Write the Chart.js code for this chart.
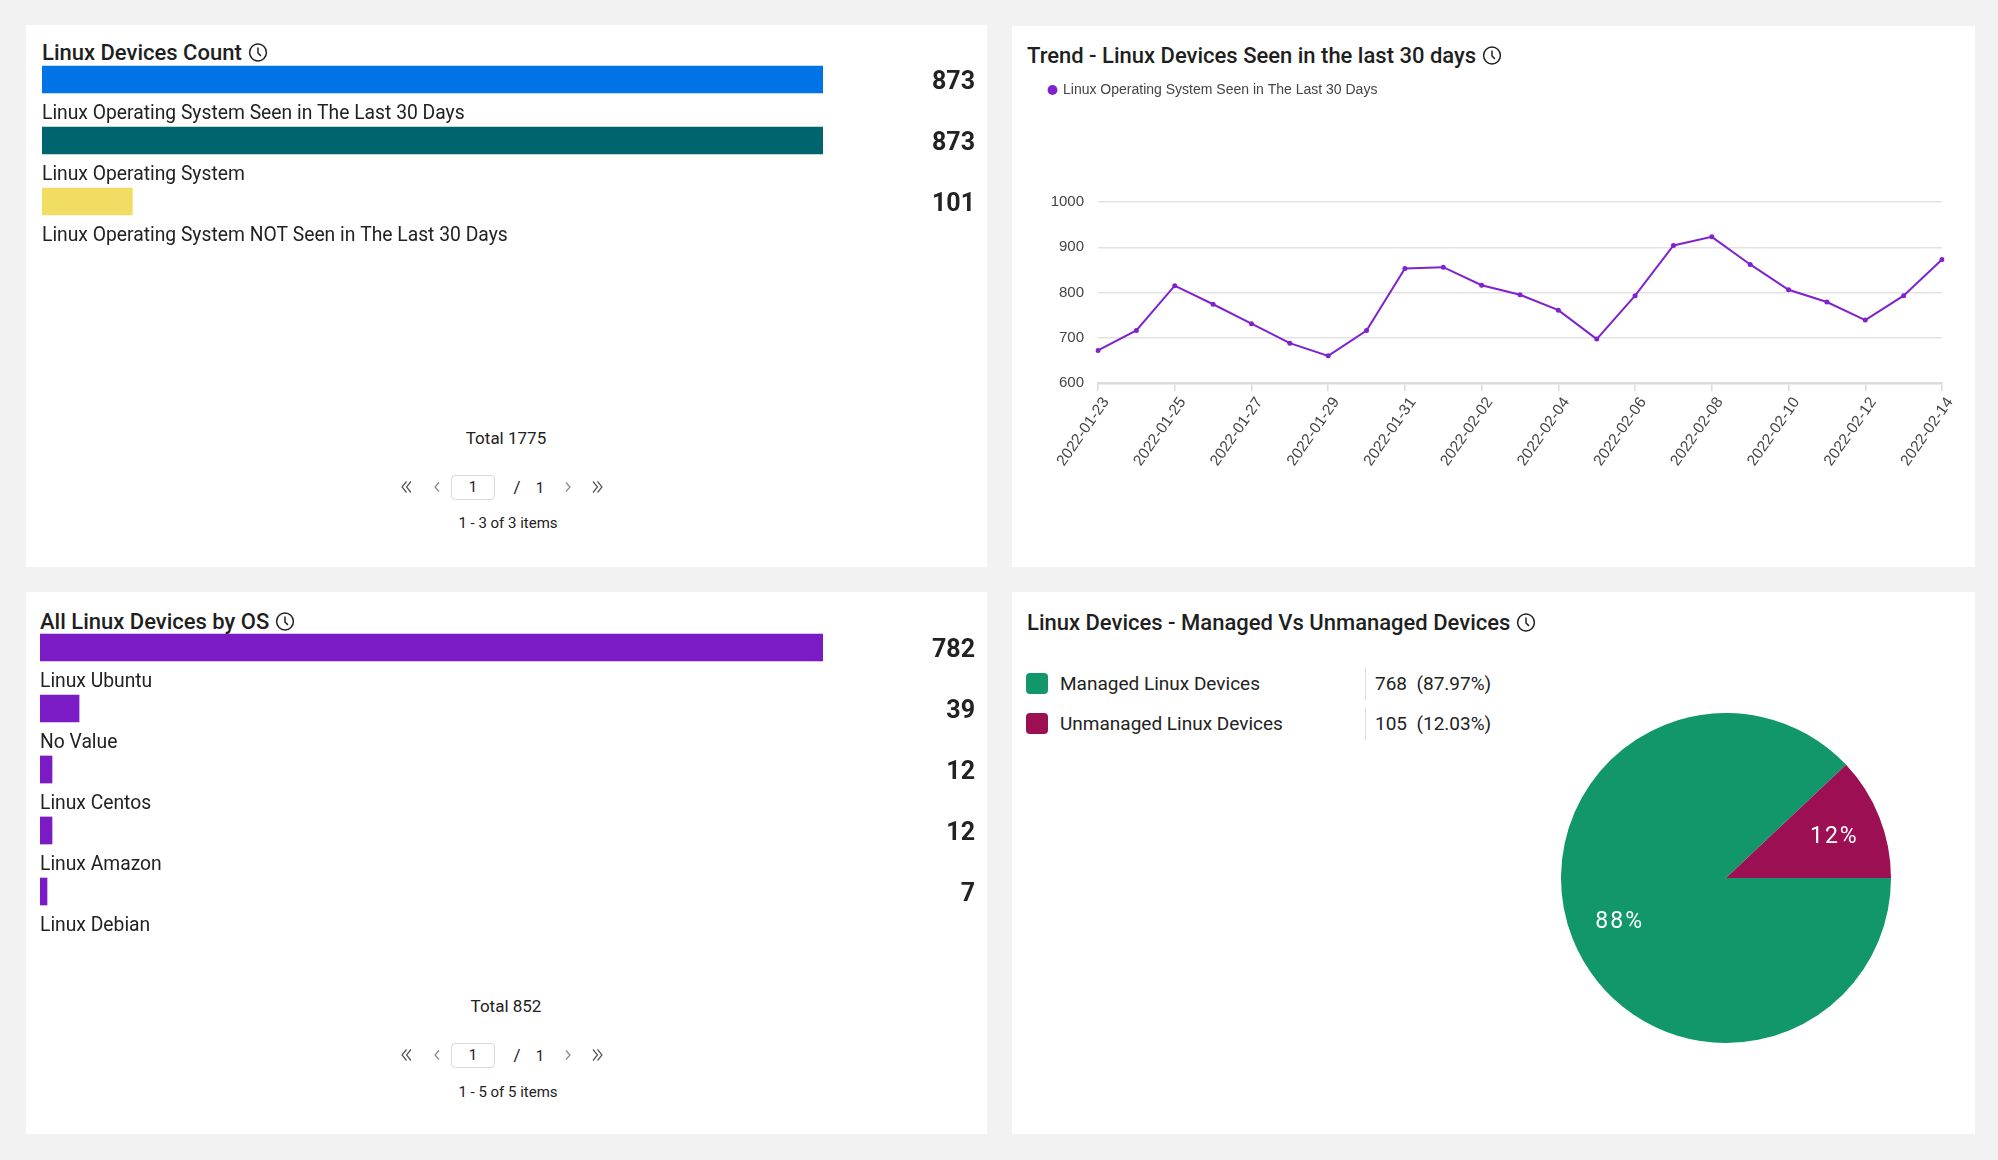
<!DOCTYPE html>
<html><head><meta charset="utf-8">
<script src="https://cdn.jsdelivr.net/npm/chart.js@4.4.1/dist/chart.umd.min.js"></script>
<style>
html,body{margin:0;padding:0;}
body{width:1998px;height:1160px;background:#f2f2f2;position:relative;overflow:hidden;font-family:Roboto,"Noto Sans",sans-serif;color:#222;}
.panel{position:absolute;background:#fff;}
.title{position:absolute;font-size:22px;font-weight:500;white-space:nowrap;display:flex;align-items:center;gap:6px;transform:translateY(-50%);color:#1f1f1f;}
.c{position:absolute;transform:translate(-50%,-50%);white-space:nowrap;}
.l{position:absolute;transform:translateY(-50%);white-space:nowrap;}
canvas{position:absolute;}
.box{position:absolute;width:44px;height:25px;border:1px solid #d9d9d9;border-radius:4px;box-sizing:border-box;font-size:15px;display:flex;align-items:center;justify-content:center;}
.sw{position:absolute;width:22px;height:21px;border-radius:4px;}
.sep{position:absolute;width:1px;background:#dcdcdc;}
</style>
</head><body>

<div class="panel" style="left:26px;top:25px;width:961px;height:542px"></div>
<div class="panel" style="left:1012px;top:26px;width:963px;height:541px"></div>
<div class="panel" style="left:26px;top:592px;width:961px;height:542px"></div>
<div class="panel" style="left:1012px;top:592px;width:963px;height:542px"></div>

<div id="titles"></div>
<div id="pagers"></div>
<div id="pieLegend"></div>

<canvas id="countChart"></canvas>
<canvas id="osChart"></canvas>
<canvas id="trendChart"></canvas>
<canvas id="pieChart"></canvas>

<script>
// ---------- data ----------
const countLabels = ['Linux Operating System Seen in The Last 30 Days', 'Linux Operating System', 'Linux Operating System NOT Seen in The Last 30 Days'];
const countValues = [873, 873, 101];
const countColors = ['#0073e6', '#00646e', '#f2dd64'];
const countTotal = 1775;
const countItems = '1 - 3 of 3 items';

const osLabels = ['Linux Ubuntu', 'No Value', 'Linux Centos', 'Linux Amazon', 'Linux Debian'];
const osValues = [782, 39, 12, 12, 7];
const osColor = '#7b1bc6';
const osTotal = 852;
const osItems = '1 - 5 of 5 items';

const trendSeries = 'Linux Operating System Seen in The Last 30 Days';
const trendDates = ['2022-01-23','2022-01-24','2022-01-25','2022-01-26','2022-01-27','2022-01-28','2022-01-29','2022-01-30','2022-01-31','2022-02-01','2022-02-02','2022-02-03','2022-02-04','2022-02-05','2022-02-06','2022-02-07','2022-02-08','2022-02-09','2022-02-10','2022-02-11','2022-02-12','2022-02-13','2022-02-14'];
const trendValues = [672, 716, 815, 774, 731, 688, 660, 716, 853, 856, 816, 795, 761, 697, 793, 904, 923, 862, 806, 779, 739, 793, 873];
const trendTicks = [600, 700, 800, 900, 1000];
const trendColor = '#7f22cf';

const pieLabels = ['Managed Linux Devices', 'Unmanaged Linux Devices'];
const pieValues = [768, 105];
const pieColors = ['#12976b', '#9c0f52'];

const titles = ['Linux Devices Count', 'Trend - Linux Devices Seen in the last 30 days', 'All Linux Devices by OS', 'Linux Devices - Managed Vs Unmanaged Devices'];

// ---------- html text ----------
const clock = '<svg width="20" height="20" viewBox="0 0 20 20"><circle cx="10" cy="10" r="8.4" fill="none" stroke="#222" stroke-width="1.5"/><path d="M10 5V10.5L12.9 13.4" fill="none" stroke="#222" stroke-width="1.5"/></svg>';
const titlePos = [[42, 52], [1027, 55], [40, 621], [1027, 622]];
document.getElementById('titles').innerHTML = titles.map((t, i) =>
  `<div class="title" style="left:${titlePos[i][0]}px;top:${titlePos[i][1]}px">${t}${clock}</div>`).join('');

const dblL = '<svg width="16" height="16" viewBox="0 0 16 16"><polyline points="7.5,2.5 3,8 7.5,13.5" fill="none" stroke="#555" stroke-width="1.2"/><polyline points="12,2.5 7.5,8 12,13.5" fill="none" stroke="#555" stroke-width="1.2"/></svg>';
const sglL = '<svg width="10" height="14" viewBox="0 0 10 14"><polyline points="7,2.5 3,7 7,11.5" fill="none" stroke="#888" stroke-width="1.2"/></svg>';
const dblR = '<svg width="16" height="16" viewBox="0 0 16 16"><polyline points="4,2.5 8.5,8 4,13.5" fill="none" stroke="#555" stroke-width="1.2"/><polyline points="8.5,2.5 13,8 8.5,13.5" fill="none" stroke="#555" stroke-width="1.2"/></svg>';
const sglR = '<svg width="10" height="14" viewBox="0 0 10 14"><polyline points="3,2.5 7,7 3,11.5" fill="none" stroke="#888" stroke-width="1.2"/></svg>';
function pager(totalY, total, rowY, itemsY, items) {
  return `<div class="c" style="left:506px;top:${totalY}px;font-size:17px">Total ${total}</div>
  <div class="c" style="left:407px;top:${rowY}px;line-height:0">${dblL}</div>
  <div class="c" style="left:437px;top:${rowY}px;line-height:0">${sglL}</div>
  <div class="box" style="left:451px;top:${rowY - 12.5}px">1</div>
  <div class="c" style="left:517px;top:${rowY}px;font-size:17px">/</div>
  <div class="c" style="left:540px;top:${rowY + 1}px;font-size:15px">1</div>
  <div class="c" style="left:568px;top:${rowY}px;line-height:0">${sglR}</div>
  <div class="c" style="left:597px;top:${rowY}px;line-height:0">${dblR}</div>
  <div class="c" style="left:508px;top:${itemsY}px;font-size:15px">${items}</div>`;
}
document.getElementById('pagers').innerHTML = pager(438, countTotal, 487, 523, countItems) + pager(1006, osTotal, 1055, 1092, osItems);

const pieSum = pieValues.reduce((a, b) => a + b, 0);
document.getElementById('pieLegend').innerHTML = pieLabels.map((lab, i) => {
  const cy = 683 + i * 40;
  return `<div class="sw" style="left:1026px;top:${cy - 10.5}px;background:${pieColors[i]}"></div>
  <div class="l" style="left:1060px;top:${cy}px;font-size:19px">${lab}</div>
  <div class="sep" style="left:1365px;top:${cy - 16}px;height:33px"></div>
  <div class="l" style="left:1375px;top:${cy}px;font-size:19px">${pieValues[i]}&nbsp;&nbsp;(${(pieValues[i] / pieSum * 100).toFixed(2)}%)</div>`;
}).join('');

// ---------- helpers ----------
function sizeCanvas(id, left, top, w, h) {
  const c = document.getElementById(id);
  c.style.left = left + 'px'; c.style.top = top + 'px';
  c.style.width = w + 'px'; c.style.height = h + 'px';
  c.width = w; c.height = h;
  return c;
}

const barListPlugin = {
  id: 'barList',
  afterDatasetsDraw(chart, args, opts) {
    const ctx = chart.ctx, area = chart.chartArea;
    const meta = chart.getDatasetMeta(0);
    const data = chart.data.datasets[0].data;
    ctx.save();
    ctx.fillStyle = '#222';
    ctx.textBaseline = 'middle';
    meta.data.forEach((bar, i) => {
      const y = bar.getProps(['y'], true).y;
      ctx.font = '400 19.3px Roboto';
      ctx.textAlign = 'left';
      ctx.fillText(chart.data.labels[i], area.left, y + opts.labelOffset);
      ctx.font = '700 25px Roboto';
      ctx.textAlign = 'right';
      ctx.fillText(String(data[i]), area.right + opts.valueGap, y + opts.valueOffset);
    });
    ctx.restore();
  }
};

function barList(id, left, top, labels, values, colors, rightPad) {
  const h = labels.length * 61 + 44;
  const c = sizeCanvas(id, left, top, 940, h);
  return new Chart(c, {
    type: 'bar',
    data: { labels: labels, datasets: [{ data: values, backgroundColor: colors, barThickness: 27, borderWidth: 0 }] },
    options: {
      indexAxis: 'y', responsive: false, animation: false, devicePixelRatio: 1,
      layout: { padding: { left: 0, right: rightPad, top: 0, bottom: 44 } },
      scales: {
        x: { display: false, min: 0, max: Math.max(...values) },
        y: { display: false }
      },
      plugins: { legend: { display: false }, tooltip: { enabled: false }, barList: { labelOffset: 34.5, valueGap: 152, valueOffset: 3.5 } }
    },
    plugins: [barListPlugin]
  });
}

barList('countChart', 42, 49, countLabels, countValues, countColors, 159);
barList('osChart', 40, 617, osLabels, osValues, osColor, 157);

// ---------- trend line ----------
const legendSpacer = {
  id: 'legendSpacer',
  beforeLayout(chart, args, opts) {
    const lg = chart.legend;
    if (lg && !lg._spaced) {
      const fit = lg.fit;
      lg.fit = function () { fit.call(this); this.height = opts.height; };
      lg._spaced = true;
    }
  }
};
const tc = sizeCanvas('trendChart', 1039, 73, 923, 410);
const lineFont = '"Liberation Sans", Arial, sans-serif';
new Chart(tc, {
  type: 'line',
  data: {
    labels: trendDates,
    datasets: [{
      label: trendSeries, data: trendValues, borderColor: trendColor, backgroundColor: trendColor,
      borderWidth: 2, pointRadius: 2.5, pointHoverRadius: 2.5, pointBorderWidth: 0, tension: 0, fill: false
    }]
  },
  options: {
    responsive: false, animation: false, devicePixelRatio: 1,
    layout: { padding: { left: 0, right: 20, top: 0, bottom: 0 } },
    scales: {
      y: {
        min: trendTicks[0], max: trendTicks[trendTicks.length - 1],
        afterBuildTicks(s) { s.ticks = trendTicks.map(v => ({ value: v })); },
        afterFit(s) { s.width = 59; },
        border: { display: false },
        grid: { color: '#e3e3e3', lineWidth: 1.5, drawTicks: false },
        ticks: { padding: 14, color: '#444', font: { size: 15, family: lineFont }, callback: v => String(v) }
      },
      x: {
        afterFit(s) { s.height = 100; },
        border: { display: true, color: '#dcdcdc', width: 2.5 },
        grid: { drawOnChartArea: false, color: '#dcdcdc', tickLength: 8, lineWidth: 1.5 },
        ticks: {
          autoSkip: false, minRotation: 55, maxRotation: 55, padding: 3, labelOffset: 8, color: '#444',
          font: { size: 15.5, family: lineFont },
          callback(v, i) { return i % 2 === 0 ? this.getLabelForValue(v) : null; }
        }
      }
    },
    plugins: {
      tooltip: { enabled: false },
      legend: {
        position: 'top', align: 'start',
        labels: { usePointStyle: true, pointStyle: 'circle', boxWidth: 7, boxHeight: 7, padding: 10, color: '#444',
          font: { size: 14, family: lineFont } }
      },
      legendSpacer: { height: 129 }
    }
  },
  plugins: [legendSpacer]
});

// ---------- pie ----------
const pieLabelPlugin = {
  id: 'pieText',
  afterDatasetsDraw(chart) {
    const ctx = chart.ctx, meta = chart.getDatasetMeta(0);
    const data = chart.data.datasets[0].data;
    const total = data.reduce((a, b) => a + b, 0);
    ctx.save();
    ctx.fillStyle = '#fff';
    ctx.font = '400 23px Roboto';
    ctx.letterSpacing = '2px';
    ctx.textAlign = 'center';
    ctx.textBaseline = 'middle';
    meta.data.forEach((arc, i) => {
      const p = arc.getProps(['x', 'y', 'startAngle', 'endAngle', 'outerRadius'], true);
      const mid = (p.startAngle + p.endAngle) / 2;
      const r = p.outerRadius * 0.7;
      ctx.fillText(Math.round(data[i] / total * 100) + '%', p.x + Math.cos(mid) * r + 1, p.y + Math.sin(mid) * r + 2);
    });
    ctx.restore();
  }
};
const pc = sizeCanvas('pieChart', 1561, 713, 330, 330);
new Chart(pc, {
  type: 'pie',
  data: { labels: pieLabels, datasets: [{ data: pieValues, backgroundColor: pieColors, borderWidth: 0 }] },
  options: {
    responsive: false, animation: false, devicePixelRatio: 1, rotation: 90,
    plugins: { legend: { display: false }, tooltip: { enabled: false } }
  },
  plugins: [pieLabelPlugin]
});
</script>
</body></html>
